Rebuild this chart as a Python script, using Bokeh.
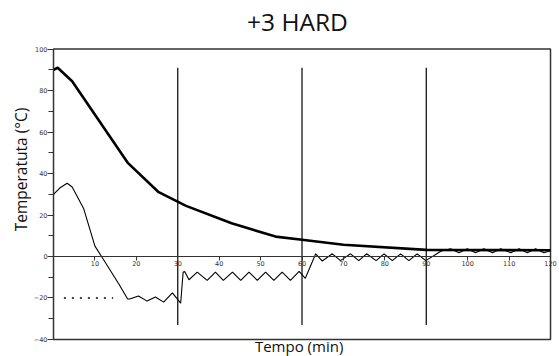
import math
from bokeh.plotting import figure
from bokeh.models import LinearAxis, FixedTicker, Label, Range1d
from bokeh.embed import file_html
from bokeh.resources import INLINE

# ---- data ----
title_text = "+3 HARD"
x_label = "Tempo (min)"
y_label = "Temperatuta  (°C)"

x_ticks = [10, 20, 30, 40, 50, 60, 70, 80, 90, 100, 110, 120]
y_ticks = [-40, -20, 0, 20, 40, 60, 80, 100]
y_minor = [-30, -10, 10, 30, 50, 70, 90]

# chart box (data limits)
box_x = (0, 120)
box_y = (-40, 100)

# core temperature (thick line)
core_t = [0, 1, 4.5, 18, 25.4, 32, 43, 53.6, 60, 70, 90, 120]
core_v = [90, 91, 84.5, 45, 31, 24.4, 16, 9.6, 8.1, 5.7, 3.2, 3.0]

# cabinet air temperature (thin line)
air_t = [0, 1.5, 3.3, 4.5, 7.3, 10, 11.6, 15.7, 17.9, 18.4, 20.5, 22.6, 24.6, 26.6, 28.7, 30.7,
         31.3, 31.7, 32.7, 34.7, 37.1, 39.1, 41, 43.2, 45.2, 47.2, 49.2, 51.2, 53.2, 55.2, 57.2, 59.3,
         60.8, 63.3, 64.9, 67.3, 69.3, 71.7, 73.7, 75.6, 77.9, 79.8, 81.8, 83.8, 85.8, 87.8, 89.9,
         93.5, 95.9, 97.9, 99.9, 101.9, 103.9, 106, 108, 110.4, 112.4, 114.4, 116.4, 118.4, 120]
air_v = [30, 33, 35.3, 33.5, 23, 5, 0, -13, -20.5, -20.5, -19, -21.5, -19.5, -22, -17.5, -22.5,
         -7.5, -7.3, -11.2, -7.5, -11.5, -7.5, -11.5, -7.5, -11.5, -7.5, -11.5, -7.5, -11.5, -7.5, -11.5, -7.2,
         -10.5, 1.3, -2.2, 1.3, -2.0, 1.3, -2.0, 1.3, -2.0, 1.3, -2.0, 1.3, -2.0, 1.3, -2.0,
         2.5, 3.7, 1.8, 3.7, 1.8, 3.7, 1.8, 3.7, 1.8, 3.7, 1.8, 3.7, 1.8, 2.8]

# set-point dotted line
setpoint_t = [2.5, 14.4]
setpoint_v = [-20, -20]

# phase markers
phase_t = [30, 60, 90]
phase_bottom = [-33, -33, -33]
phase_top = [91, 91, 91]

# ---- figure (frame covers whole canvas; box drawn in data space) ----
p = figure(width=559, height=356, x_range=Range1d(-12.80, 122.17), y_range=Range1d(-48.2, 123.4),
           output_backend="svg", toolbar_location=None,
           x_axis_location=None, y_axis_location=None, min_border=0)
p.xgrid.visible = False
p.ygrid.visible = False
p.outline_line_color = None
p.background_fill_color = "white"
p.border_fill_color = "white"

ink = "#333333"
tick_font = "DejaVu Sans"

ay = LinearAxis(ticker=FixedTicker(ticks=y_ticks, minor_ticks=y_minor), fixed_location=box_x[0])
ay.bounds = box_y
ay.major_tick_out = 6
ay.major_tick_in = 0
ay.minor_tick_out = 5
ay.minor_tick_in = 0
ay.major_label_standoff = 0
ay.axis_line_color = ink
ay.major_tick_line_color = ink
ay.minor_tick_line_color = ink
ay.major_label_text_font = tick_font
ay.major_label_text_font_size = "6.5px"
ay.major_label_text_color = ink
p.add_layout(ay, "left")

ax = LinearAxis(ticker=FixedTicker(ticks=x_ticks), fixed_location=0)
ax.bounds = box_x
ax.major_tick_out = 4
ax.major_tick_in = 0
ax.minor_tick_out = 0
ax.minor_tick_in = 0
ax.major_label_standoff = 0
ax.axis_line_color = ink
ax.major_tick_line_color = ink
ax.major_label_text_font = tick_font
ax.major_label_text_font_size = "6.5px"
ax.major_label_text_color = ink
p.add_layout(ax, "below")

# chart box
p.quad(left=[box_x[0]], right=[box_x[1]], bottom=[box_y[0]], top=[box_y[1]],
       fill_color=None, line_color=ink, line_width=1.5)

p.segment(x0=phase_t, y0=phase_bottom, x1=phase_t, y1=phase_top, line_color="black", line_width=1.2)
p.line(setpoint_t, setpoint_v, line_color="black", line_width=1.5, line_dash="2 6")
p.line(air_t, air_v, line_color="black", line_width=1.1)
p.line(core_t, core_v, line_color="black", line_width=2.6)

p.add_layout(Label(x=58.9, y=113.4, text=title_text, text_align="center", text_baseline="alphabetic",
                   text_font="Open Sans", text_font_size="24.5px", text_color="#111111"))
p.add_layout(Label(x=59.3, y=-43.0, text=x_label, text_align="center", text_baseline="alphabetic",
                   text_font="Open Sans", text_font_size="15px", text_color="#111111"))
p.add_layout(Label(x=-7.8, y=42.9, text=y_label, angle=math.pi / 2, text_align="center",
                   text_baseline="alphabetic", text_font="Open Sans", text_font_size="15.5px",
                   text_color="#111111"))

open("out.html", "w").write(file_html(p, INLINE))
